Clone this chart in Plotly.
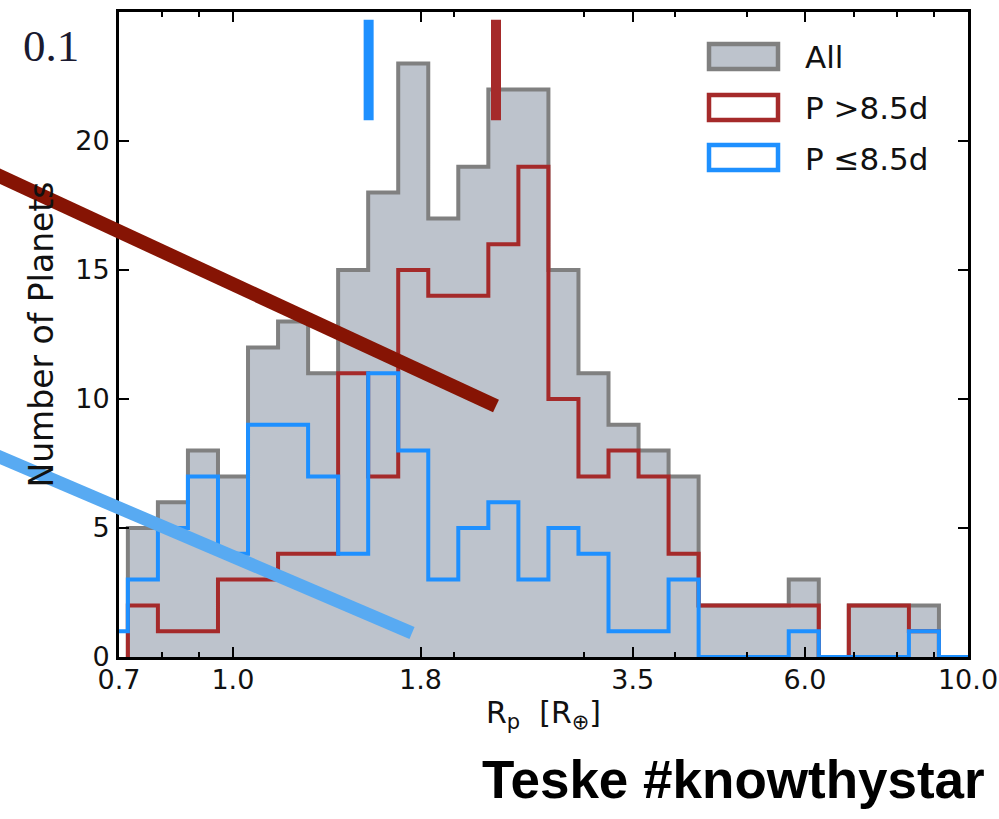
import numpy as np
import plotly.graph_objects as go

# ---------------- data ----------------
bin_lo = 0.7197          # first bin edge (R_earth)
bin_hi = 9.13            # last bin edge (R_earth)
n_bins = 27              # log-spaced bins

counts_all = [5, 6, 8, 7, 12, 13, 11, 15, 18, 23, 17, 19, 22, 22, 15, 11, 9, 8, 7,
              2, 2, 2, 3, 0, 2, 2, 2]
counts_long = [2, 1, 1, 3, 3, 4, 4, 11, 7, 15, 14, 14, 16, 19, 10, 7, 8, 7, 4,
               2, 2, 2, 2, 0, 2, 2, 1]
counts_short = [3, 5, 7, 4, 9, 9, 7, 4, 11, 8, 3, 5, 6, 3, 5, 4, 1, 1, 3,
                0, 0, 0, 1, 0, 0, 0, 1]
# the short-period histogram extends one bin further on each side
short_extra_left = 1
short_extra_right = 0

median_long = 2.28
median_short = 1.53

x_ticks = [0.7, 1.0, 1.8, 3.5, 6.0, 10.0]
x_ticktext = ["0.7", "1.0", "1.8", "3.5", "6.0", "10.0"]
x_minor = [0.8, 0.9, 2, 3, 4, 5, 7, 8, 9]
y_ticks = [0, 5, 10, 15, 20]
legend_labels = ["All", "P\u00a0>8.5d", "P\u00a0\u22648.5d"]

# ---------------- helpers ----------------
ratio = (bin_hi / bin_lo) ** (1.0 / n_bins)
edges = [bin_lo * ratio ** k for k in range(n_bins + 1)]
edges_short = [bin_lo * ratio ** k for k in range(-1, n_bins + 2)]


def step_xy(e, c):
    xs = [e[0]] + list(e[:-1]) + [e[-1]]
    ys = [0] + list(c) + [0]
    return xs, ys


GRAY = "#808080"
FILL = "#bdc3cc"
RED = "#a52a2a"
BLUE = "#1e90ff"

fig = go.Figure()

xa, ya = step_xy(edges, counts_all)
fig.add_trace(go.Scatter(x=xa, y=ya, mode="lines", line=dict(color=GRAY, width=4, shape="hv"),
                         fill="tozeroy", fillcolor=FILL, showlegend=False, hoverinfo="skip"))
xr, yr = step_xy(edges, counts_long)
fig.add_trace(go.Scatter(x=xr, y=yr, mode="lines", line=dict(color=RED, width=4, shape="hv"),
                         showlegend=False, hoverinfo="skip"))
xb, yb = step_xy(edges_short, [short_extra_left] + counts_short + [short_extra_right])
fig.add_trace(go.Scatter(x=xb, y=yb, mode="lines", line=dict(color=BLUE, width=4, shape="hv"),
                         showlegend=False, hoverinfo="skip"))

# median markers
fig.add_trace(go.Scatter(x=[median_short, median_short], y=[20.8, 24.7], mode="lines",
                         line=dict(color=BLUE, width=10), showlegend=False, hoverinfo="skip"))
fig.add_trace(go.Scatter(x=[median_long, median_long], y=[20.8, 24.7], mode="lines",
                         line=dict(color=RED, width=10), showlegend=False, hoverinfo="skip"))

# ---------------- layout ----------------
ML, MR, MT, MB = 119, 31, 12, 162
WIDTH, HEIGHT = 999, 819
PW = WIDTH - ML - MR
PH = HEIGHT - MT - MB


def px(x):
    return (x - ML) / PW


def py(y):
    return (MT + PH - y) / PH


tick_font = dict(family="DejaVu Sans", size=27, color="#111111")

fig.update_layout(
    width=WIDTH, height=HEIGHT,
    margin=dict(l=ML, r=MR, t=MT, b=MB, pad=0),
    paper_bgcolor="white", plot_bgcolor="white",
    xaxis=dict(type="log", range=[np.log10(0.7), np.log10(10.0)], automargin=False,
               tickvals=x_ticks, ticktext=x_ticktext, ticks="inside", ticklen=10,
               tickwidth=1.5, tickcolor="black", showline=True, linewidth=3,
               linecolor="black", mirror="ticks", showgrid=False, zeroline=False,
               tickfont=tick_font, ticklabelstandoff=-3,
               minor=dict(tickvals=x_minor, ticks="inside", ticklen=5, tickwidth=1.5,
                          tickcolor="black", showgrid=False),
               title=dict(text="R<sub>p</sub>\u00a0\u00a0[R<sub>\u2295</sub>]",
                          font=dict(family="DejaVu Sans", size=30, color="#111111"),
                          standoff=8)),
    yaxis=dict(range=[0, 25], tickvals=y_ticks, ticks="inside", ticklen=10, tickwidth=1.5,
               automargin=False,
               tickcolor="black", showline=True, linewidth=3, linecolor="black",
               mirror="ticks", showgrid=False, zeroline=False, tickfont=tick_font,
               ticklabelstandoff=1,
               title=dict(text="Number of Planets",
                          font=dict(family="DejaVu Sans", size=33, color="#111111"),
                          standoff=12)),
)

# legend (drawn manually to match the large patches)
shapes = []
annos = []
leg_rows = [(GRAY, FILL, 56.5), (RED, "white", 107.5), (BLUE, "white", 157.5)]
for (lc, fc, cy), lab in zip(leg_rows, legend_labels):
    shapes.append(dict(type="rect", xref="paper", yref="paper",
                       x0=px(709), x1=px(778), y0=py(cy - 12.5), y1=py(cy + 12.5),
                       line=dict(color=lc, width=4.5), fillcolor=fc, layer="above"))
    annos.append(dict(text=lab, xref="paper", yref="paper", x=px(803), y=py(cy + 1),
                      xanchor="left", yanchor="middle", showarrow=False,
                      font=dict(family="DejaVu Sans", size=31, color="#111111")))

# hand-drawn strokes
shapes.append(dict(type="line", xref="paper", yref="paper",
                   x0=px(-5), y0=py(174), x1=px(496), y1=py(406),
                   line=dict(color="#861404", width=14), layer="above"))
shapes.append(dict(type="line", xref="paper", yref="paper",
                   x0=px(-5), y0=py(455), x1=px(412), y1=py(633),
                   line=dict(color="#58aaf2", width=13), layer="above"))

annos.append(dict(text="0.1", xref="paper", yref="paper", x=px(51), y=py(46),
                  xanchor="center", yanchor="middle", showarrow=False,
                  font=dict(family="Liberation Serif", size=45, color="#1a1a30")))
annos.append(dict(text="Teske #knowthystar", xref="paper", yref="paper", x=px(733),
                  y=py(779), xanchor="center", yanchor="middle", showarrow=False,
                  font=dict(family="Liberation Sans", size=53, color="black",
                            weight="bold")))

fig.update_layout(shapes=shapes, annotations=annos)

fig.write_html("out.html")
